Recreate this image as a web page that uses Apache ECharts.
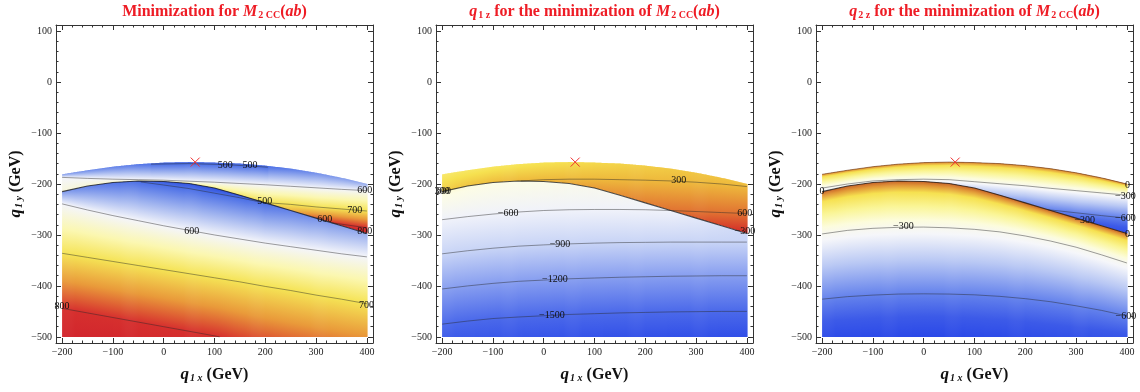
<!DOCTYPE html>
<html>
<head>
<meta charset="utf-8">
<script src="https://cdn.jsdelivr.net/npm/echarts@6.0.0/dist/echarts.min.js"></script>
<style>
html,body{margin:0;padding:0;background:#ffffff;}
#chart{width:1140px;height:392px;}
</style>
</head>
<body>
<div id="chart"></div>
<script>
// ---------------- shared data ----------------
const X_SAMPLES    = [-200,-150,-100,-50,0,50,100,150,200,250,300,350,400];
const TOP_EDGE_Y   = [-181,-173,-166,-161,-158,-157,-158,-160,-164,-170,-178,-188,-200];
const DISC_Y       = [-215,-204,-197,-194,-195,-199,-208,-222,-237,-252,-267,-282,-297];
const BOTTOM_Y     = -500;
const MARKER       = [62,-157];
const X_TICK_VALUES = [-200,-100,0,100,200,300,400];
const X_TICK_LABELS = ['−200','−100','0','100','200','300','400'];
const Y_TICK_VALUES = [-500,-400,-300,-200,-100,0,100];
const Y_TICK_LABELS = ['−500','−400','−300','−200','−100','0','100'];
const PANEL_TITLES = [
  '{n|Minimization for }{i|M}{s|2 CC}{n|(}{i|ab}{n|)}',
  '{i|q}{s|1 z}{n| for the minimization of }{i|M}{s|2 CC}{n|(}{i|ab}{n|)}',
  '{i|q}{s|2 z}{n| for the minimization of }{i|M}{s|2 CC}{n|(}{i|ab}{n|)}'
];
const X_NAME = '{q|q}{s|1 x}{t| (GeV)}';
const Y_NAME = '{q|q}{s|1 y}{t| (GeV)}';

// ---------------- panel 1 : M2CC ----------------
const P1_PALETTE_VALUES = [440,500,550,600,650,700,750,800,880];
const P1_PALETTE_COLORS = ['#2040dc','#4a6ee6','#9fb3ef','#f4f5fa','#fbf7b0','#f5e355','#e99a3a','#d6302e','#cf1f2c'];
const P1_TOP_VALUES        = [530,522,515,505,495,490,490,492,499,510,522,533,545];
const P1_DISC_UPPER_VALUES = [620,625,630,630,640,655,670,688,705,730,780,810,835];
const P1_DISC_LOWER_VALUES = [530,515,505,500,480,465,462,475,500,515,525,535,545];
const P1_BOTTOM_VALUES     = [850,845,840,830,820,810,802,790,780,772,765,758,752];
const P1_UP_500 = [[-25,-161],[50,-160],[125,-162],[205,-167]];
const P1_UP_600 = [[-200,-187],[-150,-189],[-100,-190.5],[-50,-191.5],[0,-192.5],[50,-194.5],[100,-196.5],[150,-199],[200,-201.5],[250,-204.5],[300,-207.5],[350,-210.5],[400,-213]];
const P1_UP_700 = [[199,-236.5],[250,-240],[300,-245],[350,-249],[400,-253]];
const P1_UP_800 = [[330,-276],[365,-281],[400,-286]];
const P1_LOW_500 = [[-45,-196],[0,-202],[50,-209],[100,-218],[150,-227],[198,-237]];
const P1_LOW_600 = [[-200,-239],[-150,-251],[-100,-262],[-50,-272],[0,-282],[50,-291],[100,-300],[150,-308],[200,-316],[250,-323],[300,-330],[350,-337],[400,-343]];
const P1_LOW_700 = [[-200,-336],[-150,-344],[-100,-352],[-50,-360],[0,-368],[50,-376],[100,-384],[150,-392],[200,-401],[250,-409],[300,-418],[350,-426],[400,-435]];
const P1_LOW_800 = [[-200,-444],[-150,-453],[-100,-462],[-50,-471],[0,-480],[50,-489],[100,-498],[110,-500]];
const P1_LABELS = [[121,-162.7,'500'],[170,-164,'500'],[396,-213,'600'],[376,-251,'700'],[396,-293.5,'800'],
  [199,-234.7,'500'],[317,-268.6,'600'],[55,-292,'600'],[399,-438.6,'700'],[-200,-440.6,'800']];

// ---------------- panel 2 : q1z ----------------
const P2_PALETTE_VALUES = [-1750,-1500,-1200,-900,-600,-300,0,150,300,600,900];
const P2_PALETTE_COLORS = ['#2d4be8','#4b69ea','#879ef0','#c8d4f6','#f0f2fa','#fcfce6','#faf08c','#f6e150','#eeb93c','#e17332','#d22828'];
const P2_TOP_VALUES        = [90,100,110,125,140,160,180,200,220,240,255,265,275];
const P2_DISC_UPPER_VALUES = [230,260,285,298,330,370,420,480,540,600,700,800,900];
const P2_DISC_LOWER_VALUES = [-230,-260,-285,-298,-330,-370,-420,-480,-540,-600,-700,-800,-880];
const P2_BOTTOM_VALUES     = [-1610,-1625,-1640,-1652,-1665,-1675,-1685,-1693,-1700,-1705,-1710,-1713,-1715];
const P2_UP_300 = [[-45,-194],[0,-191.5],[50,-190.5],[100,-190.5],[150,-191.5],[200,-192.5],[250,-194],[300,-196.5],[350,-200],[400,-205]];
const P2_UP_600 = [[250,-252],[300,-254],[350,-256],[400,-258]];
const P2_LOW_M600 = [[-200,-270],[-150,-264],[-100,-259],[-50,-255],[0,-252],[50,-250.5],[100,-250],[150,-250],[200,-250.5],[250,-252]];
const P2_LOW_M900 = [[-200,-337],[-150,-331],[-100,-326],[-50,-322],[0,-319.5],[50,-317.5],[100,-316],[150,-315],[200,-314.5],[250,-314],[300,-314],[350,-314],[400,-314]];
const P2_LOW_M1200 = [[-200,-406],[-150,-400],[-100,-395],[-50,-391],[0,-388.5],[50,-386],[100,-384.5],[150,-383],[200,-382],[250,-381],[300,-380.5],[350,-380],[400,-380]];
const P2_LOW_M1500 = [[-200,-475],[-150,-469],[-100,-464],[-50,-461],[0,-458.5],[50,-456],[100,-454.5],[150,-453],[200,-452],[250,-451],[300,-450.5],[350,-450],[400,-450]];
const P2_LABELS = [[266,-193.5,'300'],[396,-257.5,'600'],[396,-293.5,'−300'],[-200,-214,'300'],[-197,-214,'600'],
  [-70,-257.5,'−600'],[32,-318,'−900'],[22,-388,'−1200'],[16,-458,'−1500']];

// ---------------- panel 3 : q2z ----------------
const P3_PALETTE_VALUES = [-800,-700,-600,-450,-330,-250,-150,-50,0,30];
const P3_PALETTE_COLORS = ['#2846e8','#3c5ae8','#6482ec','#b9c8f4','#f5f6fa','#fcfcdc','#faf596','#f6e150','#e19637','#c86428'];
const P3_TOP_VALUES        = [10,10,10,10,10,10,10,10,10,10,10,10,10];
const P3_DISC_UPPER_VALUES = [-330,-325,-320,-318,-330,-360,-410,-480,-555,-605,-670,-720,-760];
const P3_DISC_LOWER_VALUES = [30,30,30,30,30,30,30,30,30,30,30,30,30];
const P3_BOTTOM_VALUES     = [-770,-775,-780,-785,-790,-787,-780,-773,-765,-755,-745,-733,-720];
const P3_UP_M300 = [[-200,-208],[-150,-200],[-100,-194],[-50,-191.5],[0,-190.5],[50,-191.5],[100,-195.5],[150,-199.5],[200,-203.5],[250,-208.5],[300,-213],[350,-217.5],[400,-222]];
const P3_UP_M600 = [[245,-250.5],[300,-256.5],[350,-262],[400,-267]];
const P3_LOW_M300 = [[-200,-298],[-150,-291],[-100,-287],[-50,-285],[0,-284.5],[50,-286],[100,-289],[150,-294],[200,-302],[250,-312],[300,-324],[350,-339],[400,-355]];
const P3_LOW_M600 = [[-200,-426],[-150,-421],[-100,-418],[-50,-416],[0,-415.5],[50,-416],[100,-417.5],[150,-420.5],[200,-425],[250,-431],[300,-439],[350,-448],[400,-459]];
const P3_LABELS = [[-200,-215,'0'],[401,-202,'0'],[397,-223.5,'−300'],[397,-267.3,'−600'],[317,-272,'−300'],
  [401,-298,'0'],[-40,-283.7,'−300'],[398,-460,'−600']];

// ---------------- helpers ----------------
function lerpArr(xs, vs, x) {
  if (x <= xs[0]) return vs[0];
  for (let i = 1; i < xs.length; i++) {
    if (x <= xs[i]) { const t = (x - xs[i-1]) / (xs[i] - xs[i-1]); return vs[i-1] + t * (vs[i] - vs[i-1]); }
  }
  return vs[vs.length - 1];
}
function polyAt(pts, x) {
  if (x < pts[0][0] || x > pts[pts.length-1][0]) return null;
  for (let i = 1; i < pts.length; i++) {
    if (x <= pts[i][0]) { const t = (x - pts[i-1][0]) / (pts[i][0] - pts[i-1][0]); return pts[i-1][1] + t * (pts[i][1] - pts[i-1][1]); }
  }
  return null;
}
function hexToRgb(h) { return [parseInt(h.substr(1,2),16), parseInt(h.substr(3,2),16), parseInt(h.substr(5,2),16)]; }
function palColor(pal, v) {
  const vs = pal.values, cs = pal.colors;
  let c;
  if (v <= vs[0]) c = cs[0];
  else if (v >= vs[vs.length-1]) c = cs[cs.length-1];
  else {
    for (let i = 1; i < vs.length; i++) {
      if (v <= vs[i]) {
        const t = (v - vs[i-1]) / (vs[i] - vs[i-1]);
        c = [0,1,2].map(k => cs[i-1][k] + t * (cs[i][k] - cs[i-1][k]));
        break;
      }
    }
  }
  return 'rgb(' + Math.round(c[0]) + ',' + Math.round(c[1]) + ',' + Math.round(c[2]) + ')';
}
function buildStops(profPx, pyB, pyT, pal) {
  const span = pyT - pyB;
  const off = py => Math.min(1, Math.max(0, (py - pyB) / span));
  const stops = [];
  for (let k = 0; k < profPx.length; k++) {
    const py = profPx[k][0], v = profPx[k][1];
    stops.push({ offset: off(py), color: palColor(pal, v) });
    if (k < profPx.length - 1) {
      const py2 = profPx[k+1][0], v2 = profPx[k+1][1];
      const lo = Math.min(v, v2), hi = Math.max(v, v2);
      let mids = pal.values.filter(pv => pv > lo && pv < hi);
      if (v2 < v) mids = mids.reverse();
      mids.forEach(pv => {
        const t = (pv - v) / (v2 - v);
        stops.push({ offset: off(py + t * (py2 - py)), color: palColor(pal, pv) });
      });
    }
  }
  for (let k = 1; k < stops.length; k++) if (stops[k].offset < stops[k-1].offset) stops[k].offset = stops[k-1].offset;
  return stops;
}

const PANELS = [
  { palette: [P1_PALETTE_VALUES, P1_PALETTE_COLORS],
    upper: { topV: P1_TOP_VALUES, botV: P1_DISC_UPPER_VALUES, contours: [[500,P1_UP_500],[600,P1_UP_600],[700,P1_UP_700],[800,P1_UP_800]] },
    lower: { topV: P1_DISC_LOWER_VALUES, botV: P1_BOTTOM_VALUES, contours: [[500,P1_LOW_500],[600,P1_LOW_600],[700,P1_LOW_700],[800,P1_LOW_800]] },
    labels: P1_LABELS, drawTop: false },
  { palette: [P2_PALETTE_VALUES, P2_PALETTE_COLORS],
    upper: { topV: P2_TOP_VALUES, botV: P2_DISC_UPPER_VALUES, contours: [[300,P2_UP_300],[600,P2_UP_600]] },
    lower: { topV: P2_DISC_LOWER_VALUES, botV: P2_BOTTOM_VALUES, contours: [[-600,P2_LOW_M600],[-900,P2_LOW_M900],[-1200,P2_LOW_M1200],[-1500,P2_LOW_M1500]] },
    labels: P2_LABELS, drawTop: false },
  { palette: [P3_PALETTE_VALUES, P3_PALETTE_COLORS],
    upper: { topV: P3_TOP_VALUES, botV: P3_DISC_UPPER_VALUES, contours: [[-300,P3_UP_M300],[-600,P3_UP_M600]] },
    lower: { topV: P3_DISC_LOWER_VALUES, botV: P3_BOTTOM_VALUES, contours: [[-300,P3_LOW_M300],[-600,P3_LOW_M600]] },
    labels: P3_LABELS, drawTop: true }
];

const STEP = 2, OVERLAP = 0.7;
function makeRenderItem(panel) {
  const pal = { values: panel.palette[0], colors: panel.palette[1].map(hexToRgb) };
  return function (params, api) {
    const isUpper = params.dataIndex === 0;
    const reg = isUpper ? panel.upper : panel.lower;
    const botY = x => isUpper ? lerpArr(X_SAMPLES, DISC_Y, x) : BOTTOM_Y;
    const topY = x => isUpper ? lerpArr(X_SAMPLES, TOP_EDGE_Y, x) : lerpArr(X_SAMPLES, DISC_Y, x);
    const children = [];
    for (let x0 = X_SAMPLES[0]; x0 < X_SAMPLES[X_SAMPLES.length-1] - 1e-9; x0 += STEP) {
      const x1 = Math.min(X_SAMPLES[X_SAMPLES.length-1], x0 + STEP), xm = (x0 + x1) / 2;
      const p0 = api.coord([x0, botY(x0)]), p1 = api.coord([x1, botY(x1)]);
      const p2 = api.coord([x1, topY(x1)]), p3 = api.coord([x0, topY(x0)]);
      p1[0] += OVERLAP; p2[0] += OVERLAP;
      const yb = botY(xm), yt = topY(xm);
      const prof = [[yb, lerpArr(X_SAMPLES, reg.botV, xm)]];
      reg.contours.forEach(c => { const y = polyAt(c[1], xm); if (y !== null && y > yb && y < yt) prof.push([y, c[0]]); });
      prof.push([yt, lerpArr(X_SAMPLES, reg.topV, xm)]);
      prof.sort((a, b) => a[0] - b[0]);
      const pyB = api.coord([xm, yb])[1], pyT = api.coord([xm, yt])[1];
      const profPx = prof.map(p => [api.coord([xm, p[0]])[1], p[1]]);
      children.push({
        type: 'polygon', silent: true,
        shape: { points: [p0, p1, p2, p3] },
        style: { fill: { type: 'linear', x: 0, y: pyB, x2: 0, y2: pyT, global: true, colorStops: buildStops(profPx, pyB, pyT, pal) } }
      });
    }
    return { type: 'group', children: children };
  };
}

// ---------------- option ----------------
const FRAME = '#333333';
const GRID_LEFTS = [56, 436, 816];
const X_MINOR = [], Y_MINOR = [];
for (let v = -200; v <= 400; v += 20) X_MINOR.push(v);
for (let v = -500; v <= 100; v += 20) Y_MINOR.push(v);

const TICK_FONT = { fontFamily: 'Liberation Serif', fontSize: 10, color: '#222' };
const NAME_RICH = {
  q: { fontFamily: 'Liberation Serif', fontSize: 17, fontWeight: 'bold', fontStyle: 'italic', color: '#111' },
  s: { fontFamily: 'Liberation Serif', fontSize: 10, fontWeight: 'bold', fontStyle: 'italic', color: '#111', padding: [7, 0, 0, 1] },
  t: { fontFamily: 'Liberation Serif', fontSize: 16, fontWeight: 'bold', color: '#111' }
};
const TITLE_RICH = {
  n: { fontFamily: 'Liberation Serif', fontSize: 16, fontWeight: 'bold', color: '#ee1c25' },
  i: { fontFamily: 'Liberation Serif', fontSize: 16, fontWeight: 'bold', fontStyle: 'italic', color: '#ee1c25' },
  s: { fontFamily: 'Liberation Serif', fontSize: 10, fontWeight: 'bold', color: '#ee1c25', padding: [7, 0, 0, 1] }
};

const grids = [], xAxes = [], yAxes = [], series = [], titles = [];
PANELS.forEach((panel, i) => {
  grids.push({ left: GRID_LEFTS[i], top: 25, width: 317, height: 318, containLabel: false, outerBoundsMode: 'none' });
  titles.push({ text: PANEL_TITLES[i], left: GRID_LEFTS[i] + 158.5, top: 3, textAlign: 'center', padding: 0,
    textStyle: { rich: TITLE_RICH } });
  ['bottom', 'top'].forEach(pos => {
    [true, false].forEach(major => {
      const lab = major && pos === 'bottom';
      xAxes.push({
        type: 'value', gridIndex: i, position: pos, min: -212, max: 412, z: 10, silent: true,
        axisLine: { show: major, onZero: false, lineStyle: { color: FRAME, width: 1 } },
        axisTick: { show: true, inside: true, length: major ? 5 : 2.5, customValues: major ? X_TICK_VALUES : X_MINOR, lineStyle: { color: FRAME, width: 1 } },
        axisLabel: Object.assign({ show: lab, customValues: X_TICK_VALUES, margin: 4,
          formatter: v => X_TICK_LABELS[X_TICK_VALUES.indexOf(v)] }, TICK_FONT),
        splitLine: { show: false },
        name: lab ? X_NAME : '', nameLocation: 'middle', nameGap: 23, nameMoveOverlap: false,
        nameTextStyle: { rich: NAME_RICH }
      });
    });
  });
  ['left', 'right'].forEach(pos => {
    [true, false].forEach(major => {
      const lab = major && pos === 'left';
      yAxes.push({
        type: 'value', gridIndex: i, position: pos, min: -512, max: 112, z: 10, silent: true,
        axisLine: { show: major, onZero: false, lineStyle: { color: FRAME, width: 1 } },
        axisTick: { show: true, inside: true, length: major ? 5 : 2.5, customValues: major ? Y_TICK_VALUES : Y_MINOR, lineStyle: { color: FRAME, width: 1 } },
        axisLabel: Object.assign({ show: lab, customValues: Y_TICK_VALUES, margin: 4,
          formatter: v => Y_TICK_LABELS[Y_TICK_VALUES.indexOf(v)] }, TICK_FONT),
        splitLine: { show: false },
        name: lab ? Y_NAME : '', nameLocation: 'middle', nameGap: 32, nameRotate: 90, nameMoveOverlap: false,
        nameTextStyle: { rich: NAME_RICH }
      });
    });
  });
  const ax = 4 * i;
  series.push({ type: 'custom', xAxisIndex: ax, yAxisIndex: ax, data: [[0, 0], [1, 0]], renderItem: makeRenderItem(panel), z: 1, silent: true, animation: false });
  const lineStyle = { color: 'rgba(40,40,40,0.5)', width: 0.9 };
  const contourSets = panel.upper.contours.concat(panel.lower.contours);
  contourSets.forEach(c => {
    series.push({ type: 'line', xAxisIndex: ax, yAxisIndex: ax, data: c[1], symbol: 'none', showSymbol: false, silent: true, animation: false, z: 3, lineStyle: lineStyle });
  });
  series.push({ type: 'line', xAxisIndex: ax, yAxisIndex: ax, data: X_SAMPLES.map((x, k) => [x, DISC_Y[k]]), symbol: 'none', showSymbol: false, silent: true, animation: false, z: 3,
    lineStyle: { color: 'rgba(20,20,20,0.75)', width: 1.1 } });
  if (panel.drawTop) {
    series.push({ type: 'line', xAxisIndex: ax, yAxisIndex: ax, data: X_SAMPLES.map((x, k) => [x, TOP_EDGE_Y[k]]), symbol: 'none', showSymbol: false, silent: true, animation: false, z: 3,
      lineStyle: { color: 'rgba(90,40,10,0.55)', width: 1 } });
  }
  series.push({ type: 'scatter', xAxisIndex: ax, yAxisIndex: ax, silent: true, animation: false, z: 4, symbolSize: 2,
    itemStyle: { color: 'rgba(0,0,0,0)' },
    data: panel.labels.map(l => ({ value: [l[0], l[1]], name: l[2] })),
    labelLayout: { hideOverlap: false },
    label: { show: true, position: 'inside', formatter: '{b}', fontFamily: 'Liberation Serif', fontSize: 10, color: '#111', opacity: 1 } });
  series.push({ type: 'custom', xAxisIndex: ax, yAxisIndex: ax, data: [MARKER], z: 5, silent: true, animation: false,
    renderItem: (params, api) => {
      const p = api.coord([api.value(0), api.value(1)]);
      const r = 4.5;
      return { type: 'group', children: [
        { type: 'line', shape: { x1: p[0] - r, y1: p[1] - r, x2: p[0] + r, y2: p[1] + r }, style: { stroke: '#f03030', lineWidth: 1 } },
        { type: 'line', shape: { x1: p[0] - r, y1: p[1] + r, x2: p[0] + r, y2: p[1] - r }, style: { stroke: '#f03030', lineWidth: 1 } }
      ] };
    } });
});

const chart = echarts.init(document.getElementById('chart'), null, { renderer: 'canvas' });
chart.setOption({
  animation: false,
  backgroundColor: '#ffffff',
  title: titles,
  grid: grids,
  xAxis: xAxes,
  yAxis: yAxes,
  series: series
});
</script>
</body>
</html>
